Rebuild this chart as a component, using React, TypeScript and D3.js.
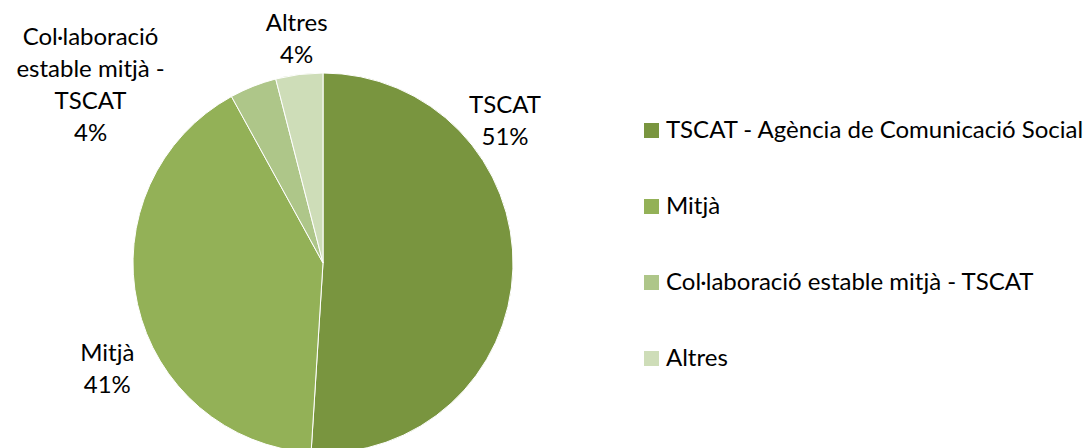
import React, { useEffect, useRef } from 'react';
import * as d3 from 'd3';

const categories = [
    'TSCAT - Agència de Comunicació Social',
    'Mitjà',
    'Col·laboració estable mitjà - TSCAT',
    'Altres',
];
const shares = [51, 41, 4, 4];
const sliceLabels = [['TSCAT'], ['Mitjà'], ['Col·laboració', 'estable mitjà -', 'TSCAT'], ['Altres']];
const colors = ['#79953F', '#93B157', '#AEC689', '#CEDDB8'];

// label placement (angle in degrees from 12 o'clock, distance from centre)
const labelAngle = [52, 244, 307.5, 353.3];
const labelRadius = [231, 240, 293, 226];

const App: React.FC = () => {
    const svgRef = useRef<SVGSVGElement>(null);

    useEffect(() => {
        if (!svgRef.current) return;
        const width = 1089;
        const height = 448;
        const cx = 323;
        const cy = 263;
        const radius = 190;
        const font = 'Lato, "Open Sans", sans-serif';
        const fontSize = '24px';

        d3.select(svgRef.current).selectAll('*').remove();
        const svg = d3.select(svgRef.current)
            .attr('width', width)
            .attr('height', height);

        const data = categories.map((c, i) => ({ name: c, value: shares[i], i }));
        const pie = d3.pie<any>().sort(null).value(d => d.value);
        const arc = d3.arc<any>().innerRadius(0).outerRadius(radius);

        const g = svg.append('g').attr('transform', `translate(${cx},${cy})`);

        g.selectAll('.slice')
            .data(pie(data))
            .enter()
            .append('path')
            .attr('class', 'slice')
            .attr('d', arc)
            .style('fill', d => colors[d.data.i])
            .style('stroke', '#ffffff')
            .style('stroke-width', 1);

        // data labels
        const lineH = 32;
        data.forEach((d, i) => {
            const a = (labelAngle[i] * Math.PI) / 180;
            const x = Math.sin(a) * labelRadius[i];
            const y = -Math.cos(a) * labelRadius[i];
            const lines = [...sliceLabels[i], `${d.value}%`];
            const top = y - ((lines.length - 1) * lineH) / 2;
            const t = g.append('text')
                .attr('text-anchor', 'middle')
                .style('font-family', font)
                .style('font-size', fontSize)
                .style('fill', '#000');
            lines.forEach((l, k) => {
                t.append('tspan')
                    .attr('x', x)
                    .attr('y', top + k * lineH)
                    .attr('dy', '0.35em')
                    .text(l);
            });
        });

        // legend
        const legendY = d3.scalePoint<string>()
            .domain(categories)
            .range([130, 358]);
        const legend = svg.append('g');
        categories.forEach((c, i) => {
            const y = legendY(c) as number;
            legend.append('rect')
                .attr('x', 644)
                .attr('y', y - 7)
                .attr('width', 15)
                .attr('height', 15)
                .style('fill', colors[i]);
            legend.append('text')
                .attr('x', 666)
                .attr('y', y)
                .attr('dy', '0.35em')
                .style('font-family', font)
                .style('font-size', fontSize)
                .style('fill', '#000')
                .text(c);
        });
    }, []);

    return (
        <svg ref={svgRef} style={{ position: 'absolute', left: 0, top: 0, background: '#fff' }}></svg>
    );
};

export default App;
